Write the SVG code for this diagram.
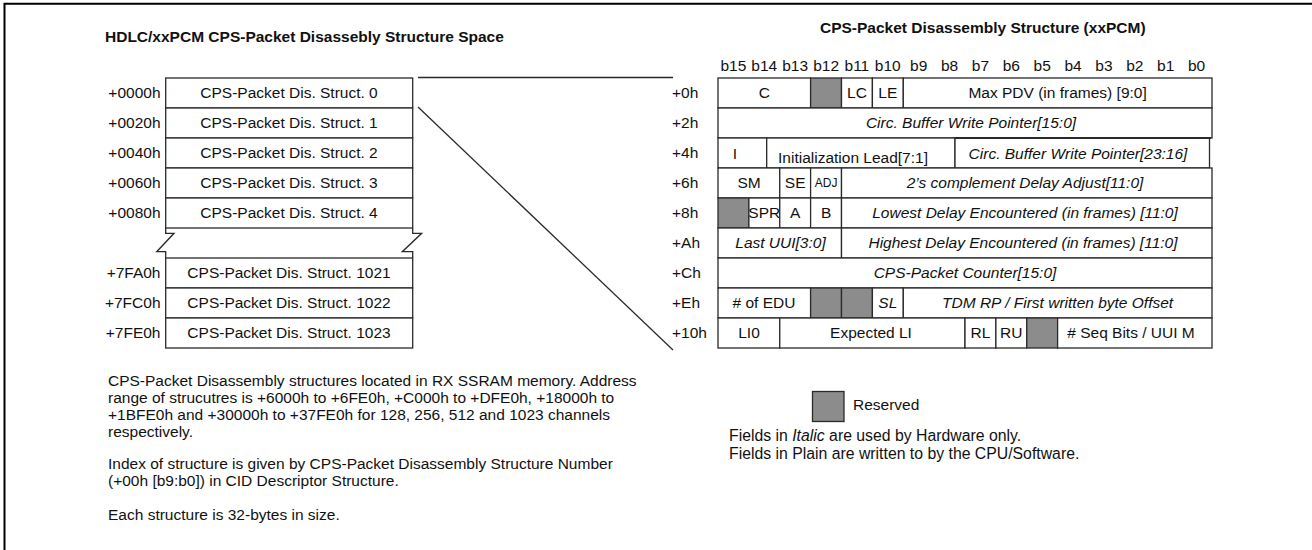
<svg xmlns="http://www.w3.org/2000/svg" width="1312" height="550" viewBox="0 0 1312 550">
<defs>
<style>
.t{font-family:"Liberation Sans",Arial,Helvetica,sans-serif;font-size:15.5px;fill:#111}
.c{text-anchor:middle}
.e{text-anchor:end}
.i{font-style:italic}
.b{font-weight:bold}
.s{font-size:12px}
.lg{font-size:15.8px}
.ln{stroke:#2a2a2a;stroke-width:1.3;fill:none}
.cell{fill:#fff;stroke:#2a2a2a;stroke-width:1.3}
.rsv{fill:#8c8c8c;stroke:#2a2a2a;stroke-width:1.3}
.frame{stroke:#000;stroke-width:2;fill:none}
</style>
</defs>
<rect x="0" y="0" width="1312" height="550" fill="#fff"/>
<path class="frame" d="M4.5,550 V3.7 H1312"/>

<g id="titles">
<text class="t b" x="105" y="42">HDLC/xxPCM CPS-Packet Disassebly Structure Space</text>
<text class="t b" x="820" y="33">CPS-Packet Disassembly Structure (xxPCM)</text>
</g>

<g id="left-table">
<g id="ls0"><rect class="cell" x="165.7" y="78" width="247" height="30"/><text class="t e" x="160.5" y="97.5">+0000h</text><text class="t c" x="289" y="97.5">CPS-Packet Dis. Struct. 0</text></g>
<g id="ls1"><rect class="cell" x="165.7" y="108" width="247" height="30"/><text class="t e" x="160.5" y="127.5">+0020h</text><text class="t c" x="289" y="127.5">CPS-Packet Dis. Struct. 1</text></g>
<g id="ls2"><rect class="cell" x="165.7" y="138" width="247" height="30"/><text class="t e" x="160.5" y="157.5">+0040h</text><text class="t c" x="289" y="157.5">CPS-Packet Dis. Struct. 2</text></g>
<g id="ls3"><rect class="cell" x="165.7" y="168" width="247" height="30"/><text class="t e" x="160.5" y="187.5">+0060h</text><text class="t c" x="289" y="187.5">CPS-Packet Dis. Struct. 3</text></g>
<g id="ls4"><rect class="cell" x="165.7" y="198" width="247" height="30"/><text class="t e" x="160.5" y="217.5">+0080h</text><text class="t c" x="289" y="217.5">CPS-Packet Dis. Struct. 4</text></g>
<g id="lbreak">
<path class="ln" d="M165.7,228 V233.3 H174 L156.7,251.7 H165.7 V258"/>
<path class="ln" d="M412.7,228 V233.3 H421.7 L402.3,251.7 H412.7 V258"/>
</g>
<g id="ls1021"><rect class="cell" x="165.7" y="258" width="247" height="30"/><text class="t e" x="160.5" y="277.5">+7FA0h</text><text class="t c" x="289" y="277.5">CPS-Packet Dis. Struct. 1021</text></g>
<g id="ls1022"><rect class="cell" x="165.7" y="288" width="247" height="30"/><text class="t e" x="160.5" y="307.5">+7FC0h</text><text class="t c" x="289" y="307.5">CPS-Packet Dis. Struct. 1022</text></g>
<g id="ls1023"><rect class="cell" x="165.7" y="318" width="247" height="30"/><text class="t e" x="160.5" y="337.5">+7FE0h</text><text class="t c" x="289" y="337.5">CPS-Packet Dis. Struct. 1023</text></g>
</g>

<g id="connectors">
<line class="ln" x1="418" y1="77.5" x2="673" y2="77.5"/>
<line class="ln" x1="418" y1="107" x2="673" y2="350"/>
</g>

<g id="bit-header">
<text class="t c" x="733.4" y="71">b15</text>
<text class="t c" x="764.3" y="71">b14</text>
<text class="t c" x="795.2" y="71">b13</text>
<text class="t c" x="826.1" y="71">b12</text>
<text class="t c" x="856.9" y="71">b11</text>
<text class="t c" x="887.8" y="71">b10</text>
<text class="t c" x="918.7" y="71">b9</text>
<text class="t c" x="949.6" y="71">b8</text>
<text class="t c" x="980.4" y="71">b7</text>
<text class="t c" x="1011.3" y="71">b6</text>
<text class="t c" x="1042.2" y="71">b5</text>
<text class="t c" x="1073.1" y="71">b4</text>
<text class="t c" x="1103.9" y="71">b3</text>
<text class="t c" x="1134.8" y="71">b2</text>
<text class="t c" x="1165.7" y="71">b1</text>
<text class="t c" x="1196.6" y="71">b0</text>
</g>

<g id="row-0h">
<text class="t" x="672" y="97.5">+0h</text>
<rect class="cell" x="718" y="78" width="92.6" height="30"/><text class="t c" x="764.3" y="97.5">C</text>
<rect class="rsv" x="810.6" y="78" width="30.9" height="30"/>
<rect class="cell" x="841.5" y="78" width="30.9" height="30"/><text class="t c" x="857" y="97.5">LC</text>
<rect class="cell" x="872.4" y="78" width="30.9" height="30"/><text class="t c" x="887.8" y="97.5">LE</text>
<rect class="cell" x="903.3" y="78" width="308.7" height="30"/><text class="t c" x="1057.6" y="97.5">Max PDV (in frames) [9:0]</text>
</g>

<g id="row-2h">
<text class="t" x="672" y="127.5">+2h</text>
<rect class="cell" x="718" y="108" width="494" height="30"/><text class="t c i" x="971" y="127.5">Circ. Buffer Write Pointer[15:0]</text>
</g>

<g id="row-4h">
<text class="t" x="672" y="157.5">+4h</text>
<rect class="cell" x="718" y="138" width="48.7" height="30"/><text class="t c" x="735" y="159">I</text>
<rect class="cell" x="766.7" y="138" width="188.3" height="30"/><text class="t c" x="853" y="163">Initialization Lead[7:1]</text>
<rect class="cell" x="955" y="138" width="254.5" height="30"/><text class="t c i" x="1078" y="159">Circ. Buffer Write Pointer[23:16]</text>
<line x1="955" y1="138" x2="1211" y2="138" stroke="#2a2a2a" stroke-width="2.2"/>
</g>

<g id="row-6h">
<text class="t" x="672" y="187.5">+6h</text>
<rect class="cell" x="718" y="168" width="61.75" height="30"/><text class="t c" x="749" y="187.5">SM</text>
<rect class="cell" x="779.75" y="168" width="30.9" height="30"/><text class="t c" x="795.2" y="187.5">SE</text>
<rect class="cell" x="810.6" y="168" width="30.9" height="30"/><text class="t c s" x="826.1" y="186.5">ADJ</text>
<rect class="cell" x="841.5" y="168" width="370.5" height="30"/><text class="t c i" x="1025" y="187.5">2’s complement Delay Adjust[11:0]</text>
</g>

<g id="row-8h">
<text class="t" x="672" y="217.5">+8h</text>
<rect class="rsv" x="718" y="198" width="30.9" height="30"/>
<rect class="cell" x="748.9" y="198" width="30.9" height="30"/><text class="t c" x="764.3" y="217.5" font-size="14">SPR</text>
<rect class="cell" x="779.75" y="198" width="30.9" height="30"/><text class="t c" x="795.2" y="217.5">A</text>
<rect class="cell" x="810.6" y="198" width="30.9" height="30"/><text class="t c" x="826.1" y="217.5">B</text>
<rect class="cell" x="841.5" y="198" width="370.5" height="30"/><text class="t c i" x="1025" y="217.5">Lowest Delay Encountered (in frames) [11:0]</text>
</g>

<g id="row-Ah">
<text class="t" x="672" y="247.5">+Ah</text>
<rect class="cell" x="718" y="228" width="123.5" height="30"/><text class="t c i" x="780.5" y="247.5">Last UUI[3:0]</text>
<rect class="cell" x="841.5" y="228" width="370.5" height="30"/><text class="t c i" x="1023" y="247.5">Highest Delay Encountered (in frames) [11:0]</text>
</g>

<g id="row-Ch">
<text class="t" x="672" y="277.5">+Ch</text>
<rect class="cell" x="718" y="258" width="494" height="30"/><text class="t c i" x="965" y="277.5">CPS-Packet Counter[15:0]</text>
</g>

<g id="row-Eh">
<text class="t" x="672" y="307.5">+Eh</text>
<rect class="cell" x="718" y="288" width="92.6" height="30"/><text class="t c" x="764" y="307.5"># of EDU</text>
<rect class="rsv" x="810.6" y="288" width="30.9" height="30"/>
<rect class="rsv" x="841.5" y="288" width="30.9" height="30"/>
<rect class="cell" x="872.4" y="288" width="30.9" height="30"/><text class="t c i" x="887.8" y="307.5">SL</text>
<rect class="cell" x="903.3" y="288" width="308.7" height="30"/><text class="t c i" x="1057.6" y="307.5">TDM RP / First written byte Offset</text>
</g>

<g id="row-10h">
<text class="t" x="672" y="337.5">+10h</text>
<rect class="cell" x="718" y="318" width="61.75" height="30"/><text class="t c" x="749" y="337.5">LI0</text>
<rect class="cell" x="779.75" y="318" width="185.25" height="30"/><text class="t c" x="871" y="337.5">Expected LI</text>
<rect class="cell" x="965" y="318" width="30.9" height="30"/><text class="t c" x="980.4" y="337.5">RL</text>
<rect class="cell" x="995.9" y="318" width="30.9" height="30"/><text class="t c" x="1011.3" y="337.5">RU</text>
<rect class="rsv" x="1026.75" y="318" width="30.9" height="30"/>
<rect class="cell" x="1057.6" y="318" width="154.4" height="30"/><text class="t c" x="1131" y="337.5"># Seq Bits / UUI M</text>
</g>

<g id="legend">
<rect class="rsv" x="812.5" y="391.5" width="31.5" height="30" stroke-width="1.6"/>
<text class="t" x="853" y="410">Reserved</text>
<text class="t lg" x="729" y="441">Fields in <tspan class="i">Italic</tspan> are used by Hardware only.</text>
<text class="t lg" x="729" y="459">Fields in Plain are written to by the CPU/Software.</text>
</g>

<g id="notes">
<text class="t" x="108" y="386">CPS-Packet Disassembly structures located in RX SSRAM memory.  Address</text>
<text class="t" x="108" y="403">range of strucutres is +6000h to +6FE0h, +C000h to +DFE0h, +18000h to</text>
<text class="t" x="108" y="420">+1BFE0h and +30000h to +37FE0h for 128, 256, 512 and 1023 channels</text>
<text class="t" x="108" y="437">respectively.</text>
<text class="t" x="108" y="469">Index of structure is given by CPS-Packet Disassembly Structure Number</text>
<text class="t" x="108" y="486">(+00h [b9:b0]) in CID Descriptor Structure.</text>
<text class="t" x="108" y="520">Each structure is 32-bytes in size.</text>
</g>
</svg>
